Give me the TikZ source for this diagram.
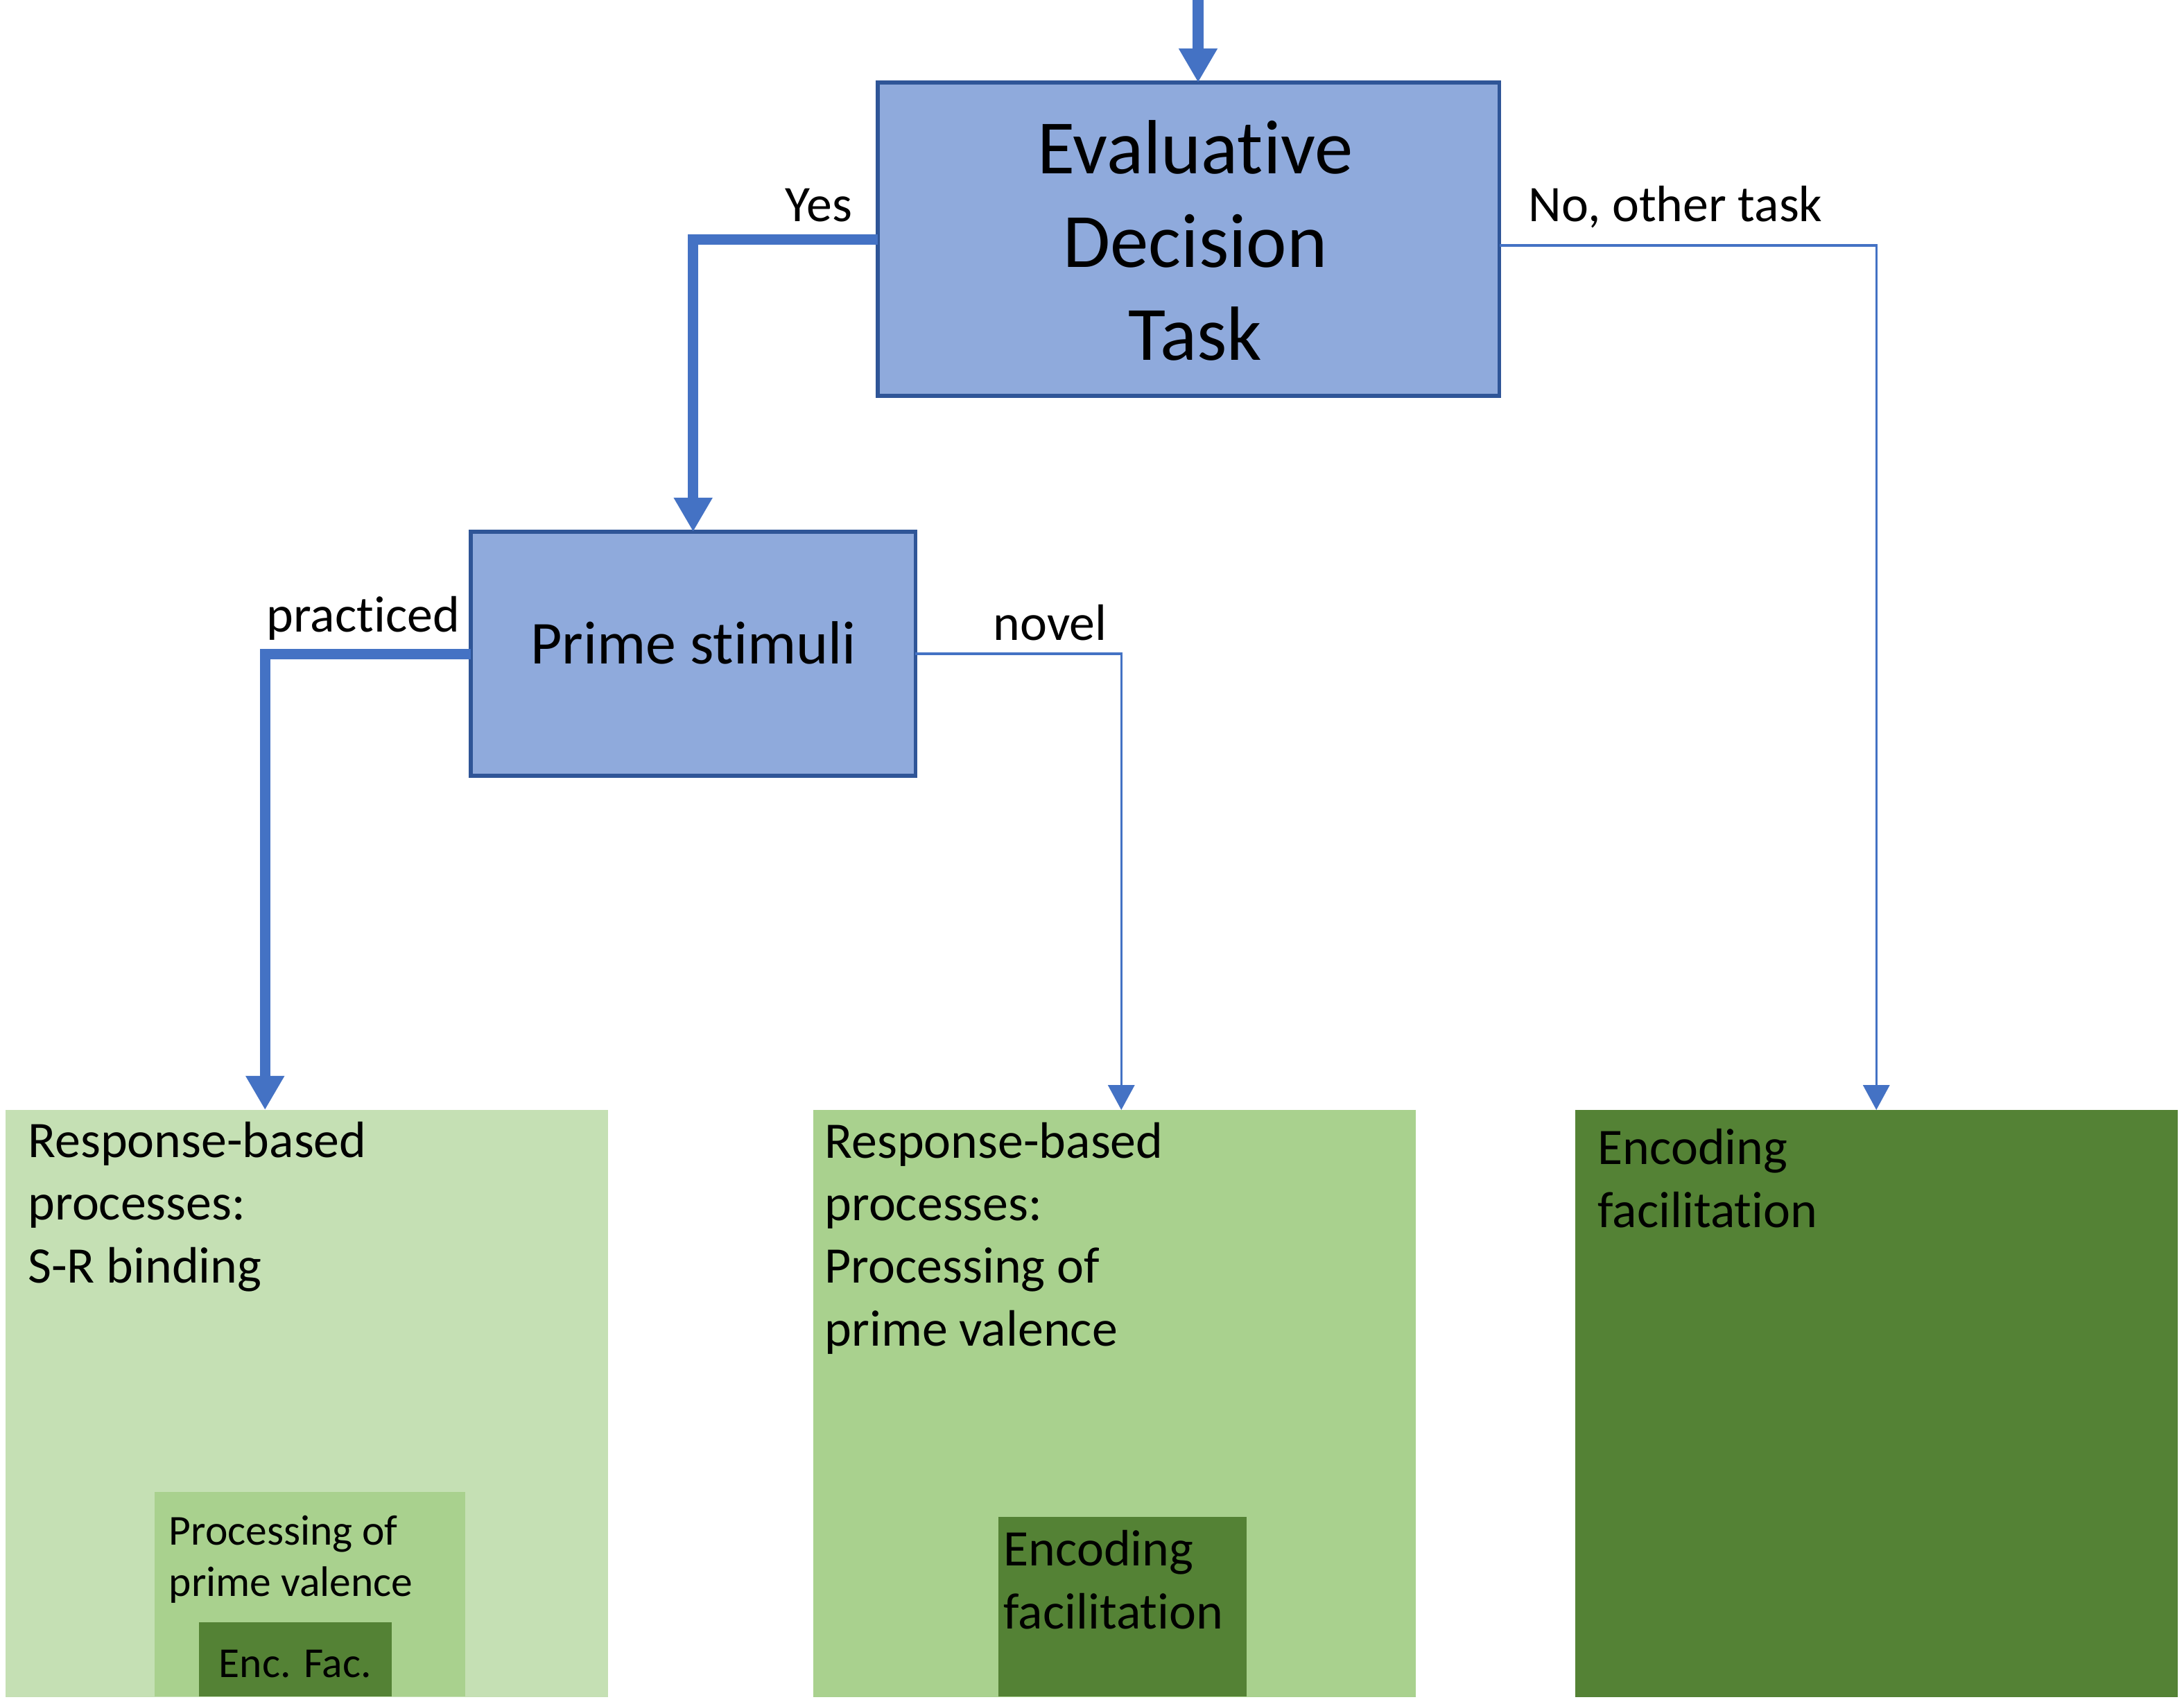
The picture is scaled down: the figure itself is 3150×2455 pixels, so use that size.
\documentclass[tikz,border=0pt]{standalone}
\usepackage{fontspec}
\setmainfont[Ligatures={NoCommon}]{Carlito}
\usetikzlibrary{arrows.meta,calc}
\definecolor{boxblue}{HTML}{8FAADC}
\definecolor{boxedge}{HTML}{2F5597}
\definecolor{arrowblue}{HTML}{4472C4}
\definecolor{gA}{HTML}{C5E0B4}
\definecolor{gB}{HTML}{A9D18E}
\definecolor{gC}{HTML}{548235}
\begin{document}
\begin{tikzpicture}[x=0.01cm,y=-0.01cm,
  bluebox/.style={draw=boxedge,fill=boxblue,line width=1.6pt,inner sep=0pt,outer sep=0pt,anchor=north west},
  greenbox/.style={inner sep=0pt,outer sep=0pt,anchor=north west},
  bigarrow/.style={draw=arrowblue,line width=4.3pt,-{Triangle[width=15pt,length=14pt]}},
  smallarrow/.style={draw=arrowblue,line width=1pt,-{Triangle[width=10.8pt,length=10.2pt]}},
  lab/.style={font=\fontsize{21}{25.6}\selectfont,inner sep=0pt},
  body/.style={font=\fontsize{21}{25.6}\selectfont,inner sep=0pt,align=left,anchor=base west},
  smallbody/.style={font=\fontsize{17.5}{21}\selectfont,inner sep=0pt,align=left,anchor=base west}]
\useasboundingbox (0,0) rectangle (3150,2455);
\fill[white] (0,0) rectangle (3150,2455);
% boxes
\node[bluebox,minimum width=8.96cm,minimum height=4.52cm] (edt) at (1266,119) {};
\node[bluebox,minimum width=6.41cm,minimum height=3.52cm] (prime) at (679,767) {};
\node[greenbox,fill=gA,minimum width=8.68cm,minimum height=8.46cm] (left) at (8,1601) {};
\node[greenbox,fill=gB,minimum width=8.68cm,minimum height=8.46cm] (mid) at (1173,1601) {};
\node[greenbox,fill=gC,minimum width=8.68cm,minimum height=8.46cm] (right) at (2272,1601) {};
\node[greenbox,fill=gB,minimum width=4.48cm,minimum height=2.95cm] (linner) at (223,2152) {};
\node[greenbox,fill=gC,minimum width=2.78cm,minimum height=1.07cm] (encfac) at (287,2340) {};
\node[greenbox,fill=gC,minimum width=3.58cm,minimum height=2.59cm] (minner) at (1440,2188) {};
% texts (base anchor = baseline of the last line)
\node[font=\fontsize{31.5}{38.3}\selectfont,align=center,inner sep=0pt,anchor=base] (edttext) at (1724,520) {Evaluative\\Decision\\Task};
\node[font=\fontsize{25}{30}\selectfont,inner sep=0pt,anchor=base] (primetext) at (1000,958) {Prime stimuli};
\node[lab,anchor=base east] (yes) at (1230,320) {Yes};
\node[lab,anchor=base west] (no) at (2204,320) {No, other task};
\node[lab,anchor=base west] (practiced) at (384,912) {practiced};
\node[lab,anchor=base west] (novel) at (1432,924) {novel};
\node[body] (lefttext) at (40,1850) {Response-based\\processes:\\S-R binding};
\node[body] (midtext) at (1189,1941) {Response-based\\processes:\\Processing of\\prime valence};
\node[body] (righttext) at (2304,1770) {Encoding\\facilitation};
\node[body] (minnertext) at (1447,2349) {Encoding\\facilitation};
\node[smallbody] (linnertext) at (243,2302) {Processing of\\prime valence};
\node[smallbody] (encfactext) at (315,2419) {Enc. Fac.};
% connectors
\coordinate (start) at (1728,0);
\draw[bigarrow] (start) -- (start |- edt.north);
\draw[bigarrow] (edt.west) -| (prime.north);
\draw[smallarrow] ($(edt.east)+(0,9)$) -| (right.north);
\draw[bigarrow] (prime.west) -| ($(left.north)+(-60,0)$);
\draw[smallarrow] (prime.east) -| ($(mid.north)+(10,0)$);
\end{tikzpicture}
\end{document}
